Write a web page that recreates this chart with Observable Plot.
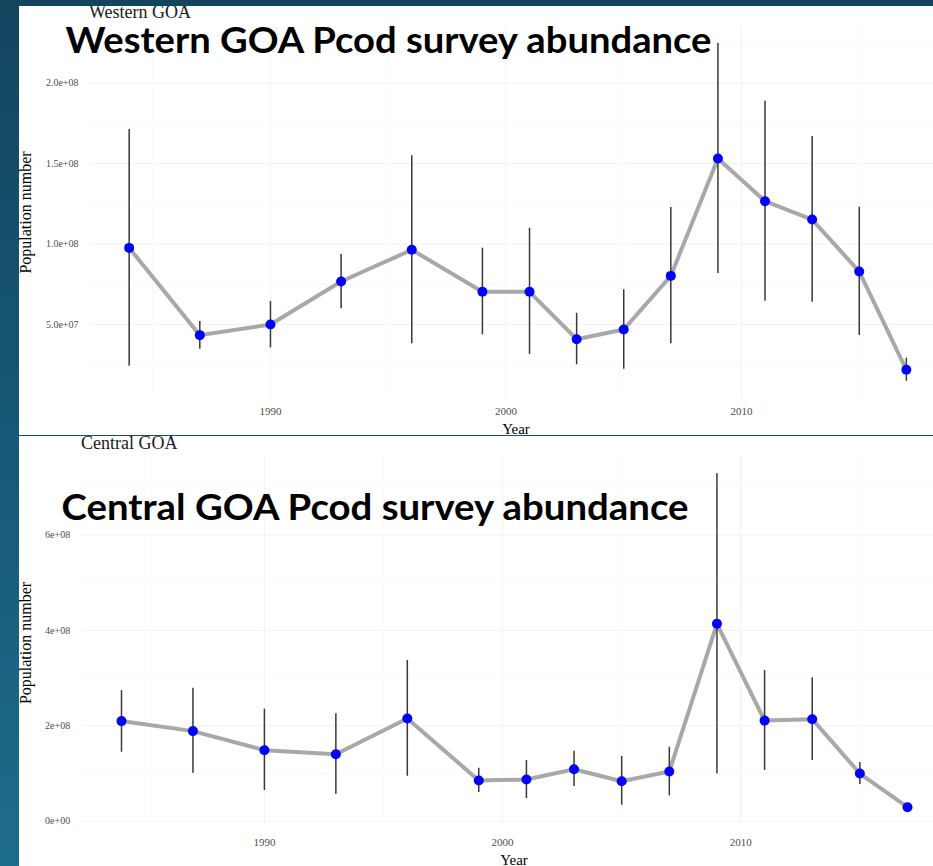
<!DOCTYPE html>
<html>
<head>
<meta charset="utf-8">
<script src="https://cdn.jsdelivr.net/npm/d3@7"></script>
<script src="https://cdn.jsdelivr.net/npm/@observablehq/plot@0.6"></script>
<style>
  html, body { margin: 0; padding: 0; }
  body { width: 933px; height: 866px; position: relative; overflow: hidden;
         background: linear-gradient(to bottom, #13455f 0%, #175a78 55%, #1e6c8c 100%); }
  .panel { position: absolute; left: 19px; width: 914px; background: #fff; overflow: hidden; }
  .panel svg.overlay { position: absolute; left: 0; top: 0; pointer-events: none; }
  .panel .plot { position: absolute; left: 0; top: 0; }
  #divider { position: absolute; left: 19px; top: 435px; width: 914px; height: 1px; background: #1b4a65; }
</style>
</head>
<body>
<div class="panel" id="p1" style="top:6px;height:429px;"></div>
<div id="divider"></div>
<div class="panel" id="p2" style="top:436px;height:430px;"></div>
<script>
// ---- data ----
const years = [1984, 1987, 1990, 1993, 1996, 1999, 2001, 2003, 2005, 2007, 2009, 2011, 2013, 2015, 2017];

const westEstimate = [9.76e7, 4.34e7, 5.0e7, 7.67e7, 9.64e7, 7.03e7, 7.03e7, 4.09e7, 4.69e7, 8.02e7, 1.531e8, 1.266e8, 1.152e8, 8.29e7, 2.19e7];
const westLower    = [2.41e7, 3.47e7, 3.55e7, 5.98e7, 3.80e7, 4.36e7, 3.14e7, 2.50e7, 2.22e7, 3.80e7, 8.17e7, 6.45e7, 6.39e7, 4.32e7, 1.48e7];
const westUpper    = [1.711e8, 5.19e7, 6.43e7, 9.35e7, 1.548e8, 9.74e7, 1.098e8, 5.70e7, 7.16e7, 1.227e8, 2.245e8, 1.887e8, 1.668e8, 1.229e8, 2.91e7];

const centEstimate = [2.10e8, 1.89e8, 1.49e8, 1.405e8, 2.154e8, 8.54e7, 8.75e7, 1.091e8, 8.39e7, 1.043e8, 4.14e8, 2.11e8, 2.14e8, 1.0e8, 2.94e7];
const centLower    = [1.447e8, 1.007e8, 6.44e7, 5.66e7, 9.44e7, 6.02e7, 4.76e7, 7.28e7, 3.36e7, 5.33e7, 9.94e7, 1.063e8, 1.273e8, 7.7e7, 2.6e7];
const centUpper    = [2.74e8, 2.79e8, 2.35e8, 2.253e8, 3.371e8, 1.112e8, 1.273e8, 1.468e8, 1.357e8, 1.552e8, 7.29e8, 3.16e8, 3.01e8, 1.231e8, 3.3e7];

const xTicks = [1990, 2000, 2010];
const xMinorGrid = [1985, 1995, 2005, 2015];

const westYTicks = [5e7, 1e8, 1.5e8, 2e8];
const westYTickLabels = ["5.0e+07", "1.0e+08", "1.5e+08", "2.0e+08"];
const westYMinor = [2.5e7, 7.5e7, 1.25e8, 1.75e8, 2.25e8];

const centYTicks = [0, 2e8, 4e8, 6e8];
const centYTickLabels = ["0e+00", "2e+08", "4e+08", "6e+08"];
const centYMinor = [1e8, 3e8, 5e8, 7e8];

const titles = ["Western GOA Pcod survey abundance", "Central GOA Pcod survey abundance"];
const facetLabels = ["Western GOA", "Central GOA"];
const yLabel = "Population number";
const xLabel = "Year";

// ---- build ----
function rows(est, lo, hi) {
  return years.map((y, i) => ({year: y, est: est[i], lo: lo[i], hi: hi[i]}));
}

function chart(opts) {
  const data = rows(opts.est, opts.lo, opts.hi);
  return Plot.plot({
    width: 914,
    height: opts.height,
    marginLeft: opts.xRange[0],
    marginRight: 0,
    marginTop: opts.marginTop,
    marginBottom: opts.marginBottom,
    x: {domain: [1982.35, 2018.65], range: opts.xRange},
    y: {domain: opts.yDomain},
    style: {background: "transparent", fontFamily: "'Liberation Serif', 'DejaVu Serif', serif", color: "#4d4d4d"},
    marks: [
      Plot.gridY(opts.yMinor, {stroke: "#f9f9f9", strokeOpacity: 1, strokeWidth: 1}),
      Plot.gridX(xMinorGrid, {stroke: "#f9f9f9", strokeOpacity: 1, strokeWidth: 1}),
      Plot.gridY(opts.yTicks, {stroke: "#f3f3f3", strokeOpacity: 1, strokeWidth: 1}),
      Plot.gridX(xTicks, {stroke: "#f3f3f3", strokeOpacity: 1, strokeWidth: 1}),
      Plot.axisY({ticks: opts.yTicks, tickSize: 0, tickPadding: opts.yPad, fontSize: 10, label: null,
                  tickFormat: d => opts.yLabels[opts.yTicks.indexOf(d)]}),
      Plot.axisX({ticks: xTicks, tickSize: 0, tickPadding: opts.xPad, fontSize: 11, label: null,
                  tickFormat: d => String(d)}),
      Plot.line(data, {x: "year", y: "est", stroke: "#a8a8a8", strokeWidth: 4}),
      Plot.ruleX(data, {x: "year", y1: "lo", y2: "hi", stroke: "#383838", strokeWidth: 1.5}),
      Plot.dot(data, {x: "year", y: "est", r: 5, fill: "#0000ff", stroke: "none"})
    ]
  });
}

function overlay(panel, offX, offY, h, items) {
  const ns = "http://www.w3.org/2000/svg";
  const svg = document.createElementNS(ns, "svg");
  svg.setAttribute("class", "overlay");
  svg.setAttribute("width", 914);
  svg.setAttribute("height", h);
  const g = document.createElementNS(ns, "g");
  g.setAttribute("transform", `translate(${-offX},${-offY})`);
  svg.appendChild(g);
  for (const it of items) {
    const t = document.createElementNS(ns, "text");
    for (const [k, v] of Object.entries(it.attrs)) t.setAttribute(k, v);
    t.textContent = it.text;
    g.appendChild(t);
  }
  panel.appendChild(svg);
}

const p1 = document.getElementById("p1");
const c1 = chart({
  est: westEstimate, lo: westLower, hi: westUpper,
  height: 429, xRange: [70.8, 925.7], marginTop: 20.15, marginBottom: 37.4,
  yDomain: [4.3e6, 2.35e8], yTicks: westYTicks, yLabels: westYTickLabels, yMinor: westYMinor,
  yPad: 11.8, xPad: 9.2
});
c1.classList.add("plot");
p1.appendChild(c1);

const p2 = document.getElementById("p2");
const c2 = chart({
  est: centEstimate, lo: centLower, hi: centUpper,
  height: 430, xRange: [62.7, 927.3], marginTop: 19.9, marginBottom: 40.9,
  yDomain: [-9.2e6, 7.652e8], yTicks: centYTicks, yLabels: centYTickLabels, yMinor: centYMinor,
  yPad: 12, xPad: 12.4
});
c2.classList.add("plot");
p2.appendChild(c2);

const serif = "'Liberation Serif', 'DejaVu Serif', serif";
const sans = "Lato, 'Open Sans', sans-serif";

overlay(p1, 19, 6, 429, [
  {text: facetLabels[0], attrs: {x: 89, y: 17.5, "font-family": serif, "font-size": 18, fill: "#1a1a1a"}},
  {text: titles[0], attrs: {x: 65.5, y: 53, "font-family": sans, "font-weight": 700, "font-size": 37, fill: "#000",
    textLength: 646, lengthAdjust: "spacingAndGlyphs"}},
  {text: yLabel, attrs: {x: 0, y: 0, transform: "translate(30.7,212.5) rotate(-90)", "text-anchor": "middle",
    "font-family": serif, "font-size": 16, fill: "#000"}},
  {text: xLabel, attrs: {x: 516, y: 434, "text-anchor": "middle", "font-family": serif, "font-size": 15, fill: "#000"}}
]);

overlay(p2, 19, 436, 430, [
  {text: facetLabels[1], attrs: {x: 81, y: 448.5, "font-family": serif, "font-size": 18, fill: "#1a1a1a"}},
  {text: titles[1], attrs: {x: 61.5, y: 520, "font-family": sans, "font-weight": 700, "font-size": 37, fill: "#000",
    textLength: 627, lengthAdjust: "spacingAndGlyphs"}},
  {text: yLabel, attrs: {x: 0, y: 0, transform: "translate(30.7,643) rotate(-90)", "text-anchor": "middle",
    "font-family": serif, "font-size": 16, fill: "#000"}},
  {text: xLabel, attrs: {x: 514, y: 865, "text-anchor": "middle", "font-family": serif, "font-size": 15, fill: "#000"}}
]);
</script>
</body>
</html>
